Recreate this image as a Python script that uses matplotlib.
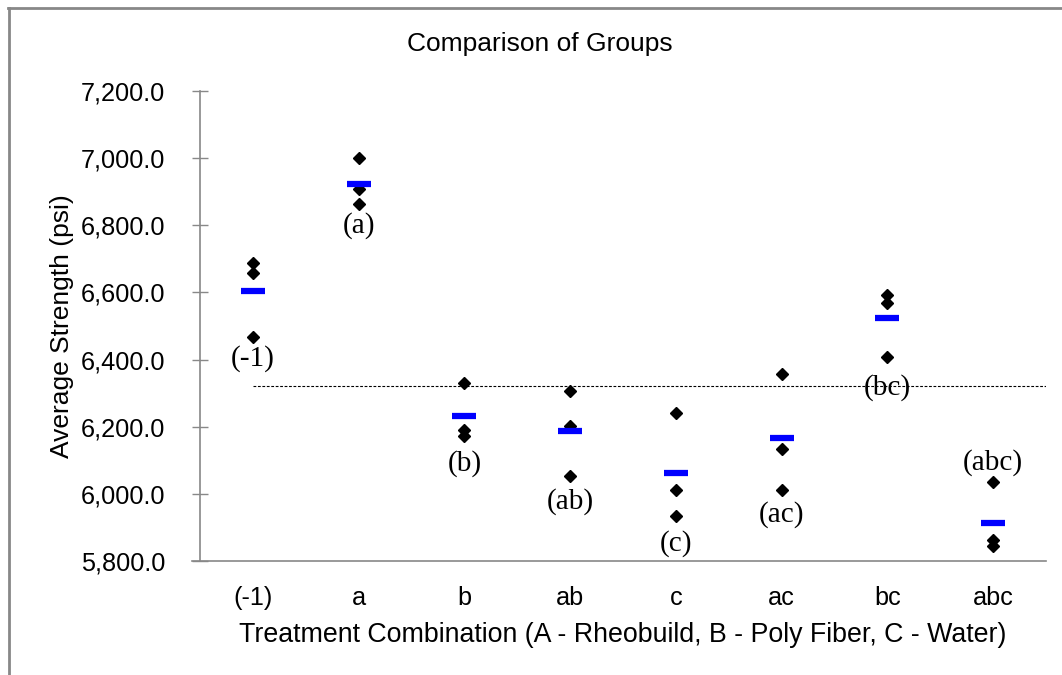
import matplotlib
matplotlib.use("Agg")
import matplotlib.pyplot as plt
from matplotlib.lines import Line2D
from matplotlib.ticker import FuncFormatter

# Treatment combinations and the three replicate strengths (psi)
groups = ["(-1)", "a", "b", "ab", "c", "ac", "bc", "abc"]
rep1 = [6688, 7000, 6331, 6307, 6240, 6357, 6592, 6034]
rep2 = [6657, 6907, 6190, 6202, 6011, 6134, 6569, 5863]
rep3 = [6468, 6863, 6173, 6053, 5935, 6011, 6407, 5845]
group_means = [6604, 6923, 6231, 6187, 6062, 6167, 6523, 5914]
grand_mean = 6322

# letter labels and where they sit
tags = ["(-1)", "(a)", "(b)", "(ab)", "(c)", "(ac)", "(bc)", "(abc)"]
tag_y = [6404, 6800, 6091, 5978, 5853, 5939, 6316, 6094]

grey = "#888888"

fig = plt.figure(figsize=(10.62, 6.75), dpi=100)
ax = fig.add_axes([200 / 1062, 1 - 561 / 675, 846 / 1062, 470 / 675])

x = list(range(len(groups)))

# grand mean reference line
ax.plot([0, len(groups) - 0.5], [grand_mean, grand_mean], color="black",
        lw=0.8, ls=(0, (2.5, 1.5)), zorder=1)

for reps in (rep1, rep2, rep3):
    ax.plot(x, reps, ls="none", marker="D", ms=5.8, color="black", zorder=3)

ax.plot(x, group_means, ls="none", marker="_", ms=17.5, mew=4.5,
        color="#0000FF", zorder=4)

for xi, t, ty in zip(x, tags, tag_y):
    ax.text(xi, ty, t, ha="center", va="center", fontsize=21,
            family="Liberation Serif", zorder=5)

ax.set_xlim(-0.5, len(groups) - 0.5)
ax.set_ylim(5800, 7200)
ax.set_yticks(range(5800, 7201, 200))
ax.yaxis.set_major_formatter(FuncFormatter(lambda v, p: f"{v:,.1f}"))
ax.set_xticks(x)
ax.set_xticklabels(groups)

for s in ("top", "right"):
    ax.spines[s].set_visible(False)
for s in ("left", "bottom"):
    ax.spines[s].set_color(grey)
    ax.spines[s].set_linewidth(1.2)
ax.spines["bottom"].set_bounds(-0.58, len(groups) - 0.5)

ax.tick_params(axis="y", direction="inout", length=11, width=1, color=grey,
               labelsize=18.2, pad=19.5)
ax.tick_params(axis="x", length=0, labelsize=18.2, pad=18)
for lab in ax.get_xticklabels() + ax.get_yticklabels():
    lab.set_family("Liberation Sans")

# title sits centred on the whole chart frame, not the plot area
fig.text(540 / 1062, 1 - 44 / 675, "Comparison of Groups", fontsize=19,
         family="Liberation Sans", ha="center", va="center")
ax.set_xlabel("Treatment Combination (A - Rheobuild, B - Poly Fiber, C - Water)",
              fontsize=19.3, family="Liberation Sans", labelpad=9)
ax.set_ylabel("Average Strength (psi)", fontsize=19, family="Liberation Sans",
              labelpad=5)

# outer chart frame (cut off at right and bottom)
fig.add_artist(Line2D([8.5 / 1062, 8.5 / 1062], [0, 1 - 8 / 675],
                      transform=fig.transFigure, color=grey, lw=2))
fig.add_artist(Line2D([8 / 1062, 1], [1 - 8 / 675, 1 - 8 / 675],
                      transform=fig.transFigure, color=grey, lw=2))

fig.savefig("out.png", dpi=100)
